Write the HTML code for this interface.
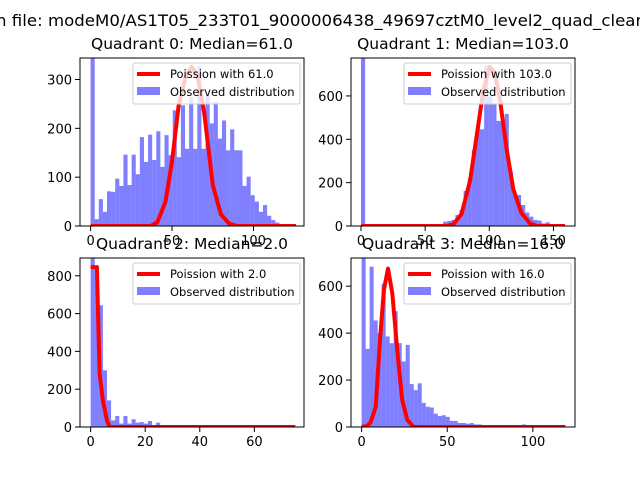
<!DOCTYPE html>
<html><head><meta charset="utf-8"><style>
body{margin:0;background:#fff}
svg{display:block;font-family:"DejaVu Sans","Liberation Sans",sans-serif}
</style></head><body>
<svg id="fig" width="640" height="480" viewBox="0 0 640 480">
<rect width="640" height="480" fill="#fff"/>
<text x="-4" y="26" font-size="16" textLength="650" lengthAdjust="spacingAndGlyphs">n file: modeM0/AS1T05_233T01_9000006438_49697cztM0_level2_quad_clean</text>
</svg>
<script>
// Quadrant 0
const q0Counts=[345,14,55,29,71,70,97,82,146,84,146,106,182,131,187,135,194,121,186,145,237,141,247,158,264,158,327,158,267,210,254,179,216,155,198,155,155,82,101,63,50,29,43,21,12,7,4,2,1,1];
const q0CurveX=[0,37,41,46,50,54,58.5,62,65.6,69.7,75,80,85,90,126];
const q0CurveY=[0,0,8,50,132,246,308,326,308,233,84,24,5,0,0];
// Quadrant 1
const q1Counts=[780,0,0,0,0,0,0,0,0,0,0,0,0,1,2,3,4,3,5,6,20,23,28,51,74,162,220,351,451,446,740,597,566,485,482,517,251,143,143,97,62,43,28,25,12,17,9,5,3,2];
const q1CurveX=[0,66.8,72,78.4,85,90,95.3,100.5,104.4,108.3,113.5,118.7,125,131.7,137,159];
const q1CurveY=[0,0,8,56,210,410,625,735,705,585,355,170,60,12,0,0];
// Quadrant 2
const q2Counts=[895,850,644,300,141,35,58,18,58,18,41,23,26,18,32,5,23,2,1,1,0,0,0,0,0,0,0,0,0,0,0,0,0,0,0,0,0,0,0,0,0,0,0,0,0,0,0,0,0,1];
const q2CurveX=[0,2.3,3.3,4.5,6,7,75];
const q2CurveY=[846,846,282,141,35,0,0];
// Quadrant 3
const q3Counts=[725,333,683,454,400,610,386,357,493,357,279,350,183,157,186,103,86,83,57,47,50,43,26,26,17,17,14,17,11,11,5,4,3,3,2,2,1,1,1,1,11,1,1,1,1,1,1,1,1,1];
const q3CurveX=[0,3.3,5.3,8.2,11,13,15.4,17.9,20.8,23.7,26.7,30.5,119];
const q3CurveY=[0,5,20,85,400,585,675,570,330,115,30,0,0];

const xTicks0=[0,50,100], yTicks0=[0,100,200,300];
const xTicks1=[0,50,100,150], yTicks1=[0,200,400,600];
const xTicks2=[0,20,40,60], yTicks2=[0,200,400,600,800];
const xTicks3=[0,50,100], yTicks3=[0,200,400,600];
const titles=["Quadrant 0: Median=61.0","Quadrant 1: Median=103.0","Quadrant 2: Median=2.0","Quadrant 3: Median=16.0"];
const lambdas=["61.0","103.0","2.0","16.0"];

const NS="http://www.w3.org/2000/svg";
const fig=document.getElementById('fig');
function mk(tag,attrs,parent){const e=document.createElementNS(NS,tag);for(const k in attrs)e.setAttribute(k,attrs[k]);(parent||fig).appendChild(e);return e;}

const panels=[
 {L:80,R:304,T:58,B:226,xmin:-6.5,xmax:131,ymax:344,binMax:126,counts:q0Counts,cx:q0CurveX,cy:q0CurveY,xt:xTicks0,yt:yTicks0},
 {L:351,R:575,T:58,B:226,xmin:-7.8,xmax:166.8,ymax:775,binMax:160,counts:q1Counts,cx:q1CurveX,cy:q1CurveY,xt:xTicks1,yt:yTicks1},
 {L:80,R:304,T:258,B:427,xmin:-3.9,xmax:78.2,ymax:894,binMax:75,counts:q2Counts,cx:q2CurveX,cy:q2CurveY,xt:xTicks2,yt:yTicks2},
 {L:351,R:575,T:258,B:427,xmin:-6.2,xmax:124.6,ymax:720,binMax:117,counts:q3Counts,cx:q3CurveX,cy:q3CurveY,xt:xTicks3,yt:yTicks3}
];

panels.forEach((p,i)=>{
 const g=mk('g',{});
 
 
 const cid='clip'+i;
 const cp=mk('clipPath',{id:cid},g);mk('rect',{x:p.L,y:p.T,width:p.R-p.L,height:p.B-p.T},cp);
 const sx=v=>p.L+(v-p.xmin)/(p.xmax-p.xmin)*(p.R-p.L);
 const sy=v=>p.B-v/p.ymax*(p.B-p.T);
 const plot=mk('g',{'clip-path':'url(#'+cid+')'},g);
 const n=p.counts.length, bw=p.binMax/n;
 p.counts.forEach((c,j)=>{
  const x0=sx(j*bw), x1=sx((j+1)*bw);
  const r=mk('rect',{x:x0,y:sy(c),width:Math.max(0,x1-x0),height:Math.max(0,p.B-sy(c)),fill:'#0000ff','fill-opacity':0.5},plot);
  
  
 });
 const pts=p.cx.map((x,k)=>sx(x).toFixed(1)+','+sy(p.cy[k]).toFixed(1)).join(' ');
 const pl=mk('polyline',{points:pts,fill:'none',stroke:'#ff0000','stroke-width':4,'stroke-linejoin':'round'},plot);
 
 
 const fr=mk('rect',{x:p.L,y:p.T,width:p.R-p.L,height:p.B-p.T,fill:'none',stroke:'#000','stroke-width':1},g);
 
 
 p.xt.forEach(t=>{
  const x=sx(t);
  mk('line',{x1:x,y1:p.B,x2:x,y2:p.B+5,stroke:'#000'},g);
  const tx=mk('text',{x:x,y:p.B+19,'font-size':13,'text-anchor':'middle'},g);tx.textContent=t;
  
  
 });
 p.yt.forEach(t=>{
  const y=sy(t);
  mk('line',{x1:p.L-5,y1:y,x2:p.L,y2:y,stroke:'#000'},g);
  const tx=mk('text',{x:p.L-8,y:y+5,'font-size':13,'text-anchor':'end'},g);tx.textContent=t;
  
  
 });
 const tt=mk('text',{x:(p.L+p.R)/2,y:p.T-9,'font-size':15.5,'text-anchor':'middle'},g);tt.textContent=titles[i];
 
 
 const lg=mk('g',{},g);
 
 
 const lx=p.R-171, ly=p.T+5;
 mk('rect',{x:lx,y:ly,width:167,height:41,rx:2,fill:'#fff','fill-opacity':0.8,stroke:'#ccc'},lg);
 mk('line',{x1:lx+4,y1:ly+11,x2:lx+27,y2:ly+11,stroke:'#ff0000','stroke-width':4},lg);
 const t1=mk('text',{x:lx+37,y:ly+15,'font-size':11.5},lg);t1.textContent='Poission with '+lambdas[i];
 mk('rect',{x:lx+4,y:ly+24,width:23,height:8,fill:'#0000ff','fill-opacity':0.5},lg);
 const t2=mk('text',{x:lx+37,y:ly+33,'font-size':11.5},lg);t2.textContent='Observed distribution';
});
</script>
</body></html>
